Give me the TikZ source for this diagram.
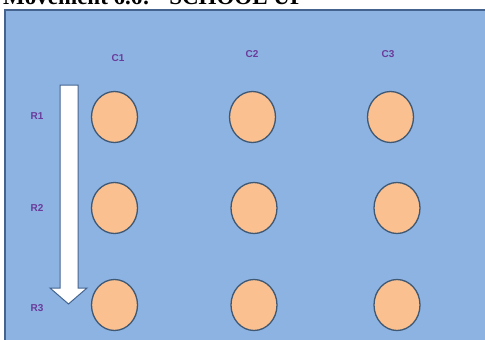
\documentclass[tikz,border=0pt]{standalone}
\usetikzlibrary{shapes.geometric}
\usepackage{fontspec}
\setmainfont{Liberation Serif}
\newfontfamily\lblfont{Liberation Sans}
\definecolor{panelfill}{HTML}{8DB3E2}
\definecolor{panelline}{HTML}{44648F}
\definecolor{seatfill}{HTML}{FAC090}
\definecolor{seatline}{HTML}{3F5873}
\definecolor{lblcol}{HTML}{6A3B9A}
\begin{document}
\begin{tikzpicture}[x=1pt,y=-1pt,
  seat/.style={ellipse,minimum width=46pt,minimum height=51pt,inner sep=0pt,fill=seatfill,draw=seatline,line width=1.3pt},
  lbl/.style={font=\lblfont\bfseries\fontsize{10}{11}\selectfont,text=lblcol,inner sep=0pt},
  titletext/.style={font=\bfseries\fontsize{23}{25}\selectfont,anchor=base west,inner sep=0pt}]
\useasboundingbox (0,0) rectangle (485,340);
\clip (0,0) rectangle (485,340);
\fill[white] (0,0) rectangle (485,340);
\node[titletext] (title) at (3,5) {Movement 6.6: “SCHOOL UP};
\draw[fill=panelfill,draw=panelline,line width=1.6pt] (5,10) rectangle (495,350);
\foreach \r/\y in {1/116,2/208,3/308}{
  \node[lbl] (R\r) at (37,\y) {R\r};
}
\node[lbl] (C1) at (118,58) {C1};
\node[lbl] (C2) at (252,54) {C2};
\node[lbl] (C3) at (388,54) {C3};
\node[seat] (s11) at (114.5,117) {};
\node[seat] (s12) at (252.5,117) {};
\node[seat] (s13) at (390.5,117) {};
\node[seat] (s21) at (114.5,208) {};
\node[seat] (s22) at (254,208) {};
\node[seat] (s23) at (397,208) {};
\node[seat] (s31) at (114.5,305) {};
\node[seat] (s32) at (254,305) {};
\node[seat] (s33) at (397,305) {};
\draw[fill=white,draw=panelline,line width=1pt,line join=miter]
  (60,85) -- (78,85) -- (78,288) -- (87,288) -- (68.5,304) -- (50,288) -- (60,288) -- cycle;
\end{tikzpicture}
\end{document}
